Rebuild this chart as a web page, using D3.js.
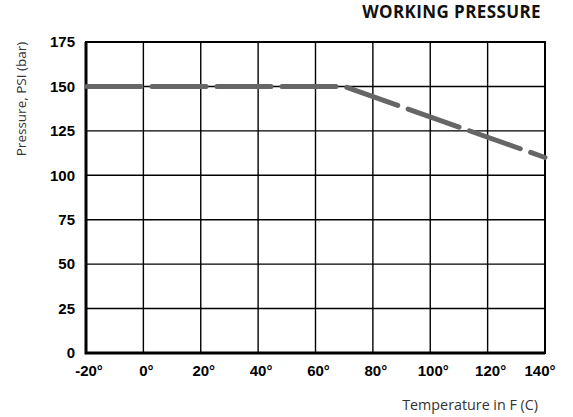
<!DOCTYPE html>
<html>
<head>
<meta charset="utf-8">
<script src="https://cdnjs.cloudflare.com/ajax/libs/d3/7.8.5/d3.min.js"></script>
<style>
  html, body { margin: 0; padding: 0; background: #fff; }
  svg { display: block; }
</style>
</head>
<body>
<svg id="chart" width="573" height="417"></svg>
<script>
// Working pressure vs. temperature
const temps = [-20, 70, 140];          // °F
const pressures = [150, 150, 110];     // PSI
const xTicks = [-20, 0, 20, 40, 60, 80, 100, 120, 140];
const yTicks = [0, 25, 50, 75, 100, 125, 150, 175];
const title = "WORKING PRESSURE";
const xTitle = "Temperature in F (C)";
const yTitle = "Pressure, PSI (bar)";

const svg = d3.select("#chart");
const margin = { left: 86, right: 28, top: 42, bottom: 64 };
const W = 573, H = 417;

const x = d3.scaleLinear().domain([-20, 140]).range([margin.left, W - margin.right]);
const y = d3.scaleLinear().domain([0, 175]).range([H - margin.bottom, margin.top]);

const tickFont = "'Liberation Sans', Arial, sans-serif";
const textFont = "'Open Sans', 'Noto Sans', sans-serif";

// grid
const grid = svg.append("g").attr("stroke", "#000").attr("stroke-width", 1.4);
grid.selectAll("line.v").data(xTicks).join("line")
  .attr("x1", d => x(d)).attr("x2", d => x(d))
  .attr("y1", y(0)).attr("y2", y(175));
grid.selectAll("line.h").data(yTicks).join("line")
  .attr("x1", x(-20)).attr("x2", x(140))
  .attr("y1", d => y(d)).attr("y2", d => y(d));

// frame: heavier left and bottom axis lines
svg.append("rect")
  .attr("x", x(-20)).attr("y", y(175))
  .attr("width", x(140) - x(-20)).attr("height", y(0) - y(175))
  .attr("fill", "none").attr("stroke", "#000").attr("stroke-width", 2);
svg.append("path")
  .attr("d", `M${x(-20)},${y(175)}V${y(0)}H${x(140)}`)
  .attr("fill", "none").attr("stroke", "#000").attr("stroke-width", 3);

// y tick labels
svg.append("g").selectAll("text").data(yTicks).join("text")
  .attr("x", margin.left - 11).attr("y", d => y(d))
  .attr("dy", "0.35em")
  .attr("text-anchor", "end")
  .attr("font-family", tickFont).attr("font-weight", "bold").attr("font-size", 15)
  .attr("fill", "#000")
  .text(d => d);

// x tick labels
svg.append("g").selectAll("text").data(xTicks).join("text")
  .attr("x", (d, i) => x(d) + (i === xTicks.length - 1 ? -5 : 3))
  .attr("y", y(0) + 23)
  .attr("text-anchor", "middle")
  .attr("font-family", tickFont).attr("font-weight", "bold").attr("font-size", 15)
  .attr("fill", "#000")
  .text(d => d + "°");

// pressure curve
const line = d3.line().x((d, i) => x(temps[i])).y(d => y(d));
svg.append("path")
  .datum(pressures)
  .attr("d", line)
  .attr("fill", "none")
  .attr("stroke", "#666")
  .attr("stroke-width", 5)
  .attr("stroke-linecap", "round")
  .attr("stroke-linejoin", "round")
  .attr("stroke-dasharray", "54 11")
  .attr("stroke-dashoffset", -1);

// titles
svg.append("text")
  .attr("x", 541).attr("y", 18)
  .attr("text-anchor", "end")
  .attr("font-family", textFont).attr("font-weight", "bold").attr("font-size", 17)
  .attr("letter-spacing", 0.4)
  .attr("fill", "#111")
  .text(title);

svg.append("text")
  .attr("x", 538).attr("y", 410)
  .attr("text-anchor", "end")
  .attr("font-family", textFont).attr("font-size", 14.3)
  .attr("fill", "#333")
  .text(xTitle);

svg.append("text")
  .attr("transform", "translate(26,99) rotate(-90)")
  .attr("text-anchor", "middle")
  .attr("font-family", textFont).attr("font-size", 13.5)
  .attr("fill", "#333")
  .text(yTitle);
</script>
</body>
</html>
